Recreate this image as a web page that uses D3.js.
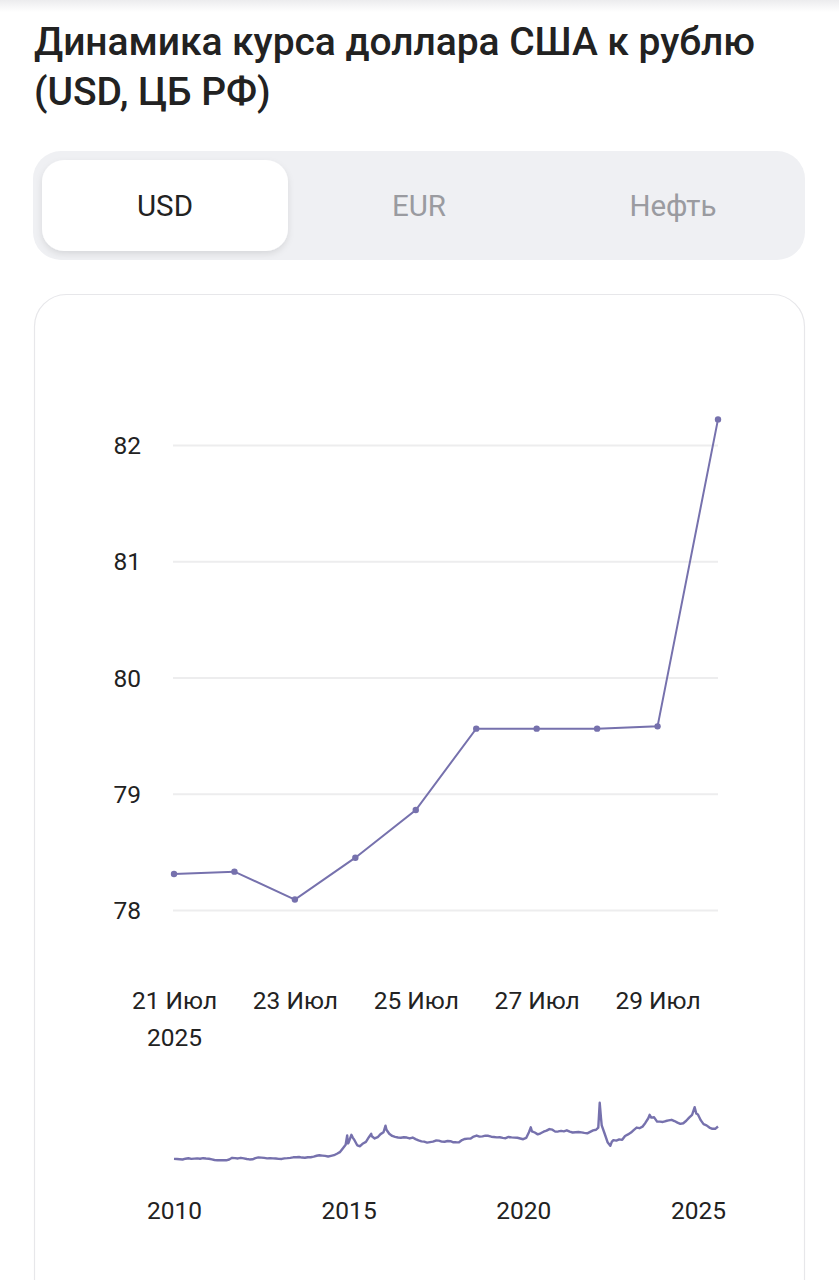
<!DOCTYPE html>
<html><head><meta charset="utf-8">
<script src="https://cdn.jsdelivr.net/npm/d3@7"></script>
<style>
html,body{margin:0;padding:0;background:#fff;}
svg{display:block;}
</style></head>
<body>
<svg id="c" width="839" height="1280"></svg>
<script>
// ---- data ----
const title1 = "Динамика курса доллара США к рублю";
const title2 = "(USD, ЦБ РФ)";
const tabs = ["USD", "EUR", "Нефть"];
const days = ["2025-07-21","2025-07-22","2025-07-23","2025-07-24","2025-07-25","2025-07-26","2025-07-27","2025-07-28","2025-07-29","2025-07-30"];
const rates = [78.31, 78.33, 78.09, 78.45, 78.86, 79.56, 79.56, 79.56, 79.58, 82.22];
const yTicks = [78, 79, 80, 81, 82];
const xTickDays = ["2025-07-21","2025-07-23","2025-07-25","2025-07-27","2025-07-29"];
const xTickLabels = ["21 Июл","23 Июл","25 Июл","27 Июл","29 Июл"];
const firstYearLabel = "2025";
const histDates = [
"2010-01-01","2010-02-01","2010-03-01","2010-04-01","2010-05-01","2010-06-01","2010-07-01","2010-08-01","2010-09-01","2010-10-01","2010-11-01","2010-12-01",
"2011-01-01","2011-02-01","2011-03-01","2011-04-01","2011-05-01","2011-06-01","2011-07-01","2011-08-01","2011-09-01","2011-10-01","2011-11-01","2011-12-01",
"2012-01-01","2012-02-01","2012-03-01","2012-04-01","2012-05-01","2012-06-01","2012-07-01","2012-08-01","2012-09-01","2012-10-01","2012-11-01","2012-12-01",
"2013-01-01","2013-02-01","2013-03-01","2013-04-01","2013-05-01","2013-06-01","2013-07-01","2013-08-01","2013-09-01","2013-10-01","2013-11-01","2013-12-01",
"2014-01-01","2014-02-01","2014-03-01","2014-04-01","2014-05-01","2014-06-01","2014-07-01","2014-08-01","2014-09-01","2014-10-01","2014-11-01","2014-12-01","2014-12-17","2014-12-25",
"2015-01-01","2015-01-30","2015-02-15","2015-03-01","2015-04-01","2015-05-01","2015-06-01","2015-07-01","2015-08-01","2015-08-25","2015-09-01","2015-10-01","2015-11-01","2015-12-01",
"2016-01-01","2016-01-22","2016-02-01","2016-03-01","2016-04-01","2016-05-01","2016-06-01","2016-07-01","2016-08-01","2016-09-01","2016-10-01","2016-11-01","2016-12-01",
"2017-01-01","2017-02-01","2017-03-01","2017-04-01","2017-05-01","2017-06-01","2017-07-01","2017-08-01","2017-09-01","2017-10-01","2017-11-01","2017-12-01",
"2018-01-01","2018-02-01","2018-03-01","2018-04-01","2018-05-01","2018-06-01","2018-07-01","2018-08-01","2018-09-01","2018-10-01","2018-11-01","2018-12-01",
"2019-01-01","2019-02-01","2019-03-01","2019-04-01","2019-05-01","2019-06-01","2019-07-01","2019-08-01","2019-09-01","2019-10-01","2019-11-01","2019-12-01",
"2020-01-01","2020-02-01","2020-03-01","2020-03-20","2020-04-01","2020-05-01","2020-06-01","2020-07-01","2020-08-01","2020-09-01","2020-10-01","2020-11-01","2020-12-01",
"2021-01-01","2021-02-01","2021-03-01","2021-04-01","2021-05-01","2021-06-01","2021-07-01","2021-08-01","2021-09-01","2021-10-01","2021-11-01","2021-12-01",
"2022-01-01","2022-02-01","2022-02-24","2022-03-11","2022-03-25","2022-04-01","2022-05-01","2022-06-01","2022-06-30","2022-07-15","2022-08-01","2022-09-01","2022-10-01","2022-11-01","2022-12-01",
"2023-01-01","2023-02-01","2023-03-01","2023-04-01","2023-05-01","2023-06-01","2023-07-01","2023-08-01","2023-08-15","2023-09-01","2023-10-01","2023-11-01","2023-12-01",
"2024-01-01","2024-02-01","2024-03-01","2024-04-01","2024-05-01","2024-06-01","2024-07-01","2024-08-01","2024-09-01","2024-10-01","2024-11-01","2024-11-28","2024-12-15",
"2025-01-01","2025-02-01","2025-03-01","2025-04-01","2025-05-01","2025-06-01","2025-07-01","2025-07-30"];
const histValues = [
30.2,30.0,29.6,29.2,30.5,31.2,30.2,30.6,31.0,30.4,31.3,30.8,
30.4,29.3,28.4,27.9,27.9,28.0,27.9,29.2,31.9,31.4,30.9,31.9,
31.0,30.0,29.3,29.5,31.5,32.5,32.2,31.8,31.0,31.3,31.0,30.7,
30.2,30.1,31.0,31.4,31.9,32.7,32.8,33.2,32.3,32.1,32.9,32.9,
33.8,35.2,36.0,35.5,35.0,34.0,35.0,36.1,38.5,41.0,47.0,53.0,67.8,55.0,
56.2,68.9,64.0,61.0,52.0,50.5,55.0,57.5,65.0,70.5,66.5,63.0,65.0,70.0,
73.0,83.6,77.0,70.5,67.0,65.5,64.5,64.2,65.0,64.5,63.0,64.5,62.0,
59.9,58.3,57.9,56.4,57.1,57.9,59.7,59.6,58.0,57.7,58.9,58.6,
56.8,56.8,57.0,60.5,62.2,62.7,62.9,66.0,67.7,65.9,66.4,67.5,
67.3,65.8,65.4,64.8,64.9,63.9,63.4,65.4,64.8,64.4,64.1,63.0,
61.8,63.8,73.1,80.9,74.5,72.6,69.6,71.3,73.8,75.6,78.1,77.1,74.0,
74.3,75.1,74.4,76.1,74.0,72.6,73.0,73.4,72.8,72.0,71.3,73.6,
76.0,77.0,80.4,120.4,95.0,84.0,71.0,57.0,51.2,57.5,60.3,59.5,61.5,60.8,67.0,
69.5,72.5,76.5,80.5,79.5,82.0,88.0,95.5,101.0,96.5,97.0,90.0,90.0,
89.5,91.0,92.0,93.0,91.0,88.5,86.5,87.5,91.5,96.5,101.0,113.2,103.0,
101.5,92.0,86.0,84.0,80.5,78.5,78.5,82.2];
const histTicks = [2010, 2015, 2020, 2025];

// ---- drawing ----
const svg = d3.select("#c");
const FONT = "Roboto, 'Noto Sans', sans-serif";
const lineColor = "#7671ad";
const defs = svg.append("defs");
const g1 = defs.append("linearGradient").attr("id","topShade").attr("x1",0).attr("x2",0).attr("y1",0).attr("y2",1);
g1.append("stop").attr("offset","0%").attr("stop-color","#ececee");
g1.append("stop").attr("offset","100%").attr("stop-color","#ffffff");
const f = defs.append("filter").attr("id","sh").attr("x","-20%").attr("y","-30%").attr("width","140%").attr("height","170%");
f.append("feDropShadow").attr("dx",0).attr("dy",3).attr("stdDeviation",3).attr("flood-color","#000").attr("flood-opacity",0.10);

svg.append("rect").attr("x",0).attr("y",0).attr("width",839).attr("height",12).attr("fill","url(#topShade)");

const t1 = svg.append("text").attr("x",34).attr("y",55).attr("font-family",FONT).attr("font-weight",500)
  .attr("font-size",39).attr("fill","#222").text(title1);
const t2 = svg.append("text").attr("x",34).attr("y",105).attr("font-family",FONT).attr("font-weight",500)
  .attr("font-size",39).attr("fill","#222").text(title2);
const len1 = t1.node().getComputedTextLength();
const ls = (721 - len1) / title1.length;
t1.attr("letter-spacing", ls);
t2.attr("letter-spacing", ls);

// tabs
svg.append("rect").attr("x",33).attr("y",151).attr("width",772).attr("height",109).attr("rx",28).attr("fill","#eff0f3");
svg.append("rect").attr("x",42).attr("y",160).attr("width",246).attr("height",91).attr("rx",22).attr("fill","#fff").attr("filter","url(#sh)");
const tabX = d3.scalePoint().domain(tabs).range([165, 673]);
svg.selectAll("text.tab").data(tabs).join("text").attr("class","tab")
  .attr("x",d=>tabX(d)).attr("y",216).attr("text-anchor","middle")
  .attr("font-family",FONT).attr("font-size",29.5)
  .attr("fill",(d,i)=>i===0?"#222":"#9a9ba0").text(d=>d);

// card
svg.append("rect").attr("x",34.5).attr("y",294.5).attr("width",770).attr("height",1040).attr("rx",32)
  .attr("fill","#fff").attr("stroke","#e7e7ea").attr("stroke-width",1.2);

// main chart
const parse = d3.timeParse("%Y-%m-%d");
const dd = days.map(parse);
const x = d3.scaleTime().domain([dd[0], dd[dd.length-1]]).range([174, 718]);
const y = d3.scaleLinear().domain([78, 82]).range([910, 445]);

const grid = svg.append("g").call(d3.axisLeft(y).tickValues(yTicks).tickSize(-545).tickPadding(32).tickFormat(d3.format("d")))
  .attr("transform","translate(173,0)");
grid.select(".domain").remove();
grid.selectAll(".tick line").attr("stroke","#ededee").attr("stroke-width",2);
grid.selectAll(".tick text").attr("font-family",FONT).attr("font-size",24.5).attr("fill","#222").attr("dy","0.35em");

const xa = svg.append("g").attr("transform","translate(0,1009)")
  .call(d3.axisBottom(x).tickValues(xTickDays.map(parse)).tickSize(0).tickPadding(0)
    .tickFormat((d,i)=>xTickLabels[i]));
xa.select(".domain").remove();
xa.selectAll(".tick text").attr("font-family",FONT).attr("font-size",24.5).attr("fill","#222").attr("dy",0);
xa.select(".tick").append("text").attr("y",37).attr("fill","#222").attr("font-family",FONT).attr("font-size",24.5)
  .attr("text-anchor","middle").text(firstYearLabel);

const data = dd.map((d,i)=>({d, v: rates[i]}));
svg.append("path").datum(data).attr("fill","none").attr("stroke",lineColor).attr("stroke-width",2)
  .attr("d", d3.line().x(p=>x(p.d)).y(p=>y(p.v)));
svg.selectAll("circle.pt").data(data).join("circle").attr("class","pt")
  .attr("cx",p=>x(p.d)).attr("cy",p=>y(p.v)).attr("r",3.2).attr("fill",lineColor);

// history mini chart
const hd = histDates.map(parse);
const hx = d3.scaleTime().domain([new Date(2010,0,1), hd[hd.length-1]]).range([174, 718]);
const hy = d3.scaleLinear().domain([30, 120]).range([1159, 1103]);
const hist = hd.map((d,i)=>({d, v: histValues[i]}));
svg.append("path").datum(hist).attr("fill","none").attr("stroke",lineColor).attr("stroke-width",2.4)
  .attr("stroke-linejoin","round")
  .attr("d", d3.line().x(p=>hx(p.d)).y(p=>hy(p.v)));
const ha = svg.append("g").attr("transform","translate(0,1219)")
  .call(d3.axisBottom(hx).tickValues(histTicks.map(yr=>new Date(yr,0,1))).tickSize(0).tickPadding(0)
    .tickFormat(d3.timeFormat("%Y")));
ha.select(".domain").remove();
ha.selectAll(".tick text").attr("font-family",FONT).attr("font-size",24.5).attr("fill","#222").attr("dy",0);
</script>
</body></html>
